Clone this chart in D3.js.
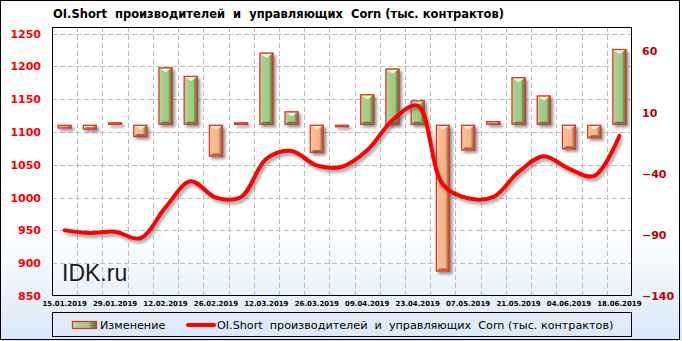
<!DOCTYPE html>
<meta charset="utf-8">
<style>
body { margin: 0; }
svg { display: block; }
.axis path, .axis line { display: none; }
.yl text { fill: #ff0000; font: bold 11px "DejaVu Sans", sans-serif; }
.yr text { fill: #c00000; font: bold 11px "DejaVu Sans", sans-serif; }
.xa text { fill: #000; font: bold 7px "DejaVu Sans", sans-serif; }
.grid line { stroke: #bdbdbd; stroke-dasharray: 5,3; shape-rendering: crispEdges; }
.title { font: bold 11.5px "DejaVu Sans", sans-serif; white-space: pre; }
.legend text { font: 11.2px "DejaVu Sans", sans-serif; white-space: pre; }
.mark { font: 23px "Liberation Sans", Arial, sans-serif; fill: #1a1a1a; }
</style>
<svg class="chart"></svg>
<script src="https://d3js.org/d3.v7.min.js"></script>
<script>

var dates = ["15.01.2019", "22.01.2019", "29.01.2019", "05.02.2019", "12.02.2019", "19.02.2019",
             "26.02.2019", "05.03.2019", "12.03.2019", "19.03.2019", "26.03.2019", "02.04.2019",
             "09.04.2019", "16.04.2019", "23.04.2019", "30.04.2019", "07.05.2019", "14.05.2019",
             "21.05.2019", "28.05.2019", "04.06.2019", "11.06.2019", "18.06.2019"];
// OI.Short, тыс. контрактов (левая ось)
var shortOI = [950, 946, 948, 938, 985, 1025, 1000, 1001, 1059, 1071, 1049, 1047,
               1072, 1118, 1140, 1020, 999, 1001, 1039, 1063, 1044, 1033, 1094];
// Изменение за неделю (правая ось)
var change = [-3, -4, 2, -10, 47, 40, -26, 2, 59, 11, -23, -2,
              25, 46, 20, -120, -21, 3, 39, 24, -20, -11, 62];
var leftTicks = [850, 900, 950, 1000, 1050, 1100, 1150, 1200, 1250];
var rightTicks = [-140, -90, -40, 10, 60];
var xLabels = dates.filter(function(d, i){ return i % 2 === 0; });

var W = 682, H = 341;
var plot = {left: 52, right: 632, top: 27, bottom: 296};

var svg = d3.select(".chart").attr("width", W).attr("height", H);
var defs = svg.append("defs");

var bg = defs.append("linearGradient").attr("id", "bg")
    .attr("gradientUnits", "userSpaceOnUse").attr("x1", 0).attr("y1", 0).attr("x2", 0).attr("y2", H);
bg.append("stop").attr("offset", 0.68).attr("stop-color", "#ffffff");
bg.append("stop").attr("offset", 1).attr("stop-color", "#d9e7f8");

function barGrad(id, stops) {
  var g = defs.append("linearGradient").attr("id", id).attr("x1", 0).attr("x2", 1).attr("y1", 0).attr("y2", 0);
  stops.forEach(function(s){ g.append("stop").attr("offset", s[0]).attr("stop-color", s[1]); });
}
barGrad("gPos", [[0, "#cfe6b8"], [0.18, "#a9d08e"], [0.68, "#a0c985"], [0.8, "#789a58"], [1, "#55713a"]]);
barGrad("gNeg", [[0, "#fcdcc0"], [0.18, "#f9c193"], [0.68, "#f4b487"], [0.8, "#bf825c"], [1, "#8e5d40"]]);

defs.append("filter").attr("id", "blur").attr("x", "-50%").attr("y", "-50%").attr("width", "200%").attr("height", "200%")
  .append("feGaussianBlur").attr("stdDeviation", 1.8);

svg.append("rect").attr("width", W).attr("height", H).attr("fill", "url(#bg)");
svg.append("rect").attr("x", 0.5).attr("y", 0.5).attr("width", 679).attr("height", 339)
    .attr("fill", "none").attr("stroke", "#000");

var x = d3.scaleBand().domain(dates).range([plot.left, plot.right]);
var yL = d3.scaleLinear().domain([850, 1260]).range([plot.bottom, plot.top]);
var yR = d3.scaleLinear().domain([-140, 80]).range([plot.bottom, plot.top]);
var cx = function(d){ return x(d) + x.bandwidth() / 2; };

// сетка
var grid = svg.append("g").attr("class", "grid");
grid.selectAll(".h").data(leftTicks.slice(1)).enter().append("line")
    .attr("x1", plot.left).attr("x2", plot.right)
    .attr("y1", function(d){ return Math.round(yL(d)) + 0.5; })
    .attr("y2", function(d){ return Math.round(yL(d)) + 0.5; });
grid.selectAll(".v").data(dates.slice(1)).enter().append("line")
    .attr("y1", plot.top).attr("y2", plot.bottom)
    .attr("x1", function(d){ return Math.round(x(d)) + 0.5; })
    .attr("x2", function(d){ return Math.round(x(d)) + 0.5; });

svg.append("text").attr("class", "mark").attr("x", 62).attr("y", 281).text("IDK.ru");

// столбцы изменения
var bw = 14;
var bars = svg.append("g").selectAll("g").data(change).enter().append("g")
    .attr("transform", function(d, i){ return "translate(" + (cx(dates[i]) - bw / 2) + ",0)"; });
function barTop(d){ return yR(Math.max(0, d)); }
function barH(d){ return Math.max(2, Math.abs(yR(d) - yR(0))); }

bars.append("rect").attr("x", 2.5).attr("y", function(d){ return barTop(d) + 2.5; })
    .attr("width", bw).attr("height", barH).attr("fill", "#4a4a4a").attr("opacity", 0.6)
    .attr("filter", "url(#blur)");
bars.append("rect").attr("y", barTop).attr("width", bw).attr("height", barH)
    .attr("fill", function(d){ return d >= 0 ? "url(#gPos)" : "url(#gNeg)"; });
bars.append("path")
    .attr("d", function(d){
      var t = barTop(d), h = barH(d), k = Math.min(5, h / 2);
      return "M1," + (t + 1) + "L" + (bw - 1) + "," + (t + 1) + "L" + (bw / 2) + "," + (t + k) + "Z";
    })
    .attr("fill", function(d){ return d >= 0 ? "#eef8d8" : "#fdeede"; });
bars.append("path")
    .attr("d", function(d){
      var b = barTop(d) + barH(d), k = Math.min(3, barH(d) / 2);
      return "M1," + (b - 1) + "L" + (bw - 1) + "," + (b - 1) + "L" + (bw - 1 - k) + "," + (b - k) + "L" + (1 + k) + "," + (b - k) + "Z";
    })
    .attr("fill", function(d){ return d >= 0 ? "#5f7d44" : "#9b6446"; });
bars.append("rect").attr("x", 0.5).attr("y", function(d){ return barTop(d) + 0.5; })
    .attr("width", bw - 1).attr("height", function(d){ return barH(d) - 1; })
    .attr("fill", "none").attr("stroke", "#e3342c").attr("stroke-width", 1.3);

// линия OI.Short
var line = d3.line()
    .x(function(d, i){ return cx(dates[i]); })
    .y(function(d){ return yL(d); })
    .curve(d3.curveCatmullRom.alpha(0.5));
svg.append("path").datum(shortOI).attr("d", line)
    .attr("transform", "translate(2,3)")
    .attr("fill", "none").attr("stroke", "#555").attr("stroke-width", 4).attr("opacity", 0.5)
    .attr("filter", "url(#blur)");
svg.append("path").datum(shortOI).attr("d", line)
    .attr("fill", "none").attr("stroke", "#ff0000").attr("stroke-width", 4).attr("stroke-linecap", "round");

// рамка области построения
svg.append("rect").attr("x", plot.left + 0.5).attr("y", plot.top + 0.5)
    .attr("width", plot.right - plot.left - 1).attr("height", plot.bottom - plot.top - 1)
    .attr("fill", "none").attr("stroke", "#000");

// оси
svg.append("g").attr("class", "axis yl").attr("transform", "translate(" + plot.left + ",0)")
    .call(d3.axisLeft(yL).tickValues(leftTicks).tickFormat(d3.format("d")).tickSize(0).tickPadding(11));
svg.append("g").attr("class", "axis yr").attr("transform", "translate(" + plot.right + ",0)")
    .call(d3.axisRight(yR).tickValues(rightTicks).tickFormat(d3.format("d")).tickSize(0).tickPadding(10));
svg.append("g").attr("class", "axis xa").attr("transform", "translate(0," + plot.bottom + ")")
    .call(d3.axisBottom(x).tickValues(xLabels).tickSize(0).tickPadding(5));

svg.append("text").attr("class", "title").attr("x", 53).attr("y", 14).attr("dy", "0.35em")
    .text("OI.Short  производителей  и  управляющих  Corn (тыс. контрактов)");

// легенда
var lg = svg.append("g").attr("class", "legend");
lg.append("rect").attr("x", 52.5).attr("y", 312.5).attr("width", 579).attr("height", 24)
    .attr("fill", "none").attr("stroke", "#000");
lg.append("rect").attr("x", 72.5).attr("y", 321.5).attr("width", 24).attr("height", 7)
    .attr("fill", "url(#gPos)").attr("stroke", "#e3342c").attr("stroke-width", 1.3);
lg.append("text").attr("x", 100).attr("y", 325).attr("dy", "0.35em").text("Изменение");
lg.append("line").attr("x1", 188).attr("x2", 214).attr("y1", 325).attr("y2", 325)
    .attr("stroke", "#ff0000").attr("stroke-width", 4).attr("stroke-linecap", "round");
lg.append("text").attr("x", 217).attr("y", 325).attr("dy", "0.35em")
    .text("OI.Short  производителей  и  управляющих  Corn (тыс. контрактов)");

</script>
